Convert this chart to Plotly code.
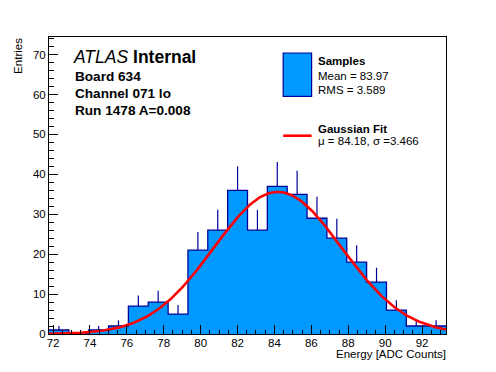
import numpy as np
import plotly.graph_objects as go

# ---- data ----
x_min = 71.78
x_max = 93.30
n_bins = 20
counts = [1, 0, 1, 2, 7, 8, 5, 21, 26, 36, 26, 37, 35, 29, 24, 18, 13, 6, 2, 2]
fit_constant = 35.6
fit_mu = 84.18
fit_sigma = 3.466
hist_mean = 83.97
hist_rms = 3.589
info_lines = ["Board 634", "Channel 071 lo", "Run 1478 A=0.008"]
x_ticks = [72, 74, 76, 78, 80, 82, 84, 86, 88, 90, 92]
y_ticks = [0, 10, 20, 30, 40, 50, 60, 70]
y_max = 74.4

FILL = "#0099ff"
EDGE = "#000099"
FONT = "Liberation Sans, Arial, Helvetica, sans-serif"

W, H = 496, 372
L, R, T, B = 49.3, 446.0, 37.3, 334.3


def px(xp):
    return (xp - L) / (R - L)


def py(yp):
    return (B - yp) / (B - T)


bw = (x_max - x_min) / n_bins
edges = [x_min + i * bw for i in range(n_bins + 1)]
centers = [x_min + (i + 0.5) * bw for i in range(n_bins)]
errs = [np.sqrt(c) for c in counts]

fig = go.Figure()

# histogram as filled step
fig.add_trace(go.Scatter(
    x=edges, y=counts + [counts[-1]], mode="lines", line_shape="hv",
    line=dict(color=EDGE, width=1.3), fill="tozeroy", fillcolor=FILL,
    hoverinfo="skip", showlegend=False))

# error bars (upper part visible)
ex, ey = [], []
for c, n, e in zip(centers, counts, errs):
    if n > 0:
        ex += [c, c, None]
        ey += [n, n + e, None]
fig.add_trace(go.Scatter(x=ex, y=ey, mode="lines",
                         line=dict(color=EDGE, width=1.2),
                         hoverinfo="skip", showlegend=False))

# gaussian fit
xf = np.linspace(x_min, x_max, 300)
yf = fit_constant * np.exp(-0.5 * ((xf - fit_mu) / fit_sigma) ** 2)
fig.add_trace(go.Scatter(x=xf, y=yf, mode="lines",
                         line=dict(color="#ff0000", width=2.6),
                         hoverinfo="skip", showlegend=False))

ann = []
shapes = []

# ATLAS label
ann.append(dict(x=px(71.0), y=py(57), xref="paper", yref="paper",
                text="<i>ATLAS</i> <b>Internal</b>", showarrow=False,
                xanchor="left", yanchor="middle",
                font=dict(family=FONT, size=17.5, color="black")))
for i, t in enumerate(info_lines):
    ann.append(dict(x=px(73.5), y=py(76.5 + i * 17.3), xref="paper", yref="paper",
                    text="<b>" + t + "</b>", showarrow=False,
                    xanchor="left", yanchor="middle",
                    font=dict(family=FONT, size=13.6, color="black")))

# legend
shapes.append(dict(type="rect", xref="paper", yref="paper",
                   x0=px(283.3), x1=px(311.7), y0=py(96.7), y1=py(53.3),
                   fillcolor=FILL, line=dict(color=EDGE, width=1.2)))
shapes.append(dict(type="line", xref="paper", yref="paper",
                   x0=px(283.3), x1=px(311.7), y0=py(136), y1=py(136),
                   line=dict(color="#ff0000", width=2.6)))
leg = [("<b>Samples</b>", 61.5),
       ("Mean = %.2f" % hist_mean, 76.5),
       ("RMS = %.3f" % hist_rms, 90.0),
       ("<b>Gaussian Fit</b>", 129.5),
       ("μ = %.2f, σ =%.3f" % (fit_mu, fit_sigma), 141.5)]
for t, yp in leg:
    ann.append(dict(x=px(316.0), y=py(yp), xref="paper", yref="paper",
                    text=t, showarrow=False, xanchor="left", yanchor="middle",
                    font=dict(family=FONT, size=11.5, color="black")))

# axis titles
ann.append(dict(x=px(448), y=py(354.5), xref="paper", yref="paper",
                text="Energy [ADC Counts]", showarrow=False,
                xanchor="right", yanchor="middle",
                font=dict(family=FONT, size=11.5, color="black")))
ann.append(dict(x=px(19), y=py(36.5), xref="paper", yref="paper",
                text="Entries", showarrow=False, textangle=-90,
                xanchor="center", yanchor="top",
                font=dict(family=FONT, size=11.5, color="black")))

fig.update_layout(
    width=W, height=H,
    margin=dict(l=L, r=W - R, t=T, b=H - B, pad=0),
    paper_bgcolor="white", plot_bgcolor="white",
    font=dict(family=FONT, size=11.5, color="black"),
    annotations=ann, shapes=shapes,
    xaxis=dict(range=[x_min, x_max], tickmode="array", tickvals=x_ticks,
               ticktext=[str(v) for v in x_ticks],
               ticks="inside", ticklen=9, tickwidth=1, tickcolor="black",
               ticklabelstandoff=-2,
               minor=dict(dtick=0.5, tick0=72, ticks="inside", ticklen=4.5,
                          tickcolor="black", showgrid=False),
               showline=True, linecolor="black", linewidth=1, mirror=True,
               showgrid=False, zeroline=False,
               tickfont=dict(family=FONT, size=11.5)),
    yaxis=dict(range=[0, y_max], tickmode="array", tickvals=y_ticks,
               ticktext=[str(v) for v in y_ticks],
               ticks="inside", ticklen=9, tickwidth=1, tickcolor="black",
               minor=dict(dtick=2, tick0=0, ticks="inside", ticklen=4.5,
                          tickcolor="black", showgrid=False),
               showline=True, linecolor="black", linewidth=1, mirror=True,
               showgrid=False, zeroline=False,
               tickfont=dict(family=FONT, size=11.5)),
)

fig.write_html("out.html", config={"displayModeBar": False},
               post_script="document.body.style.margin='0';document.body.style.padding='0';")
